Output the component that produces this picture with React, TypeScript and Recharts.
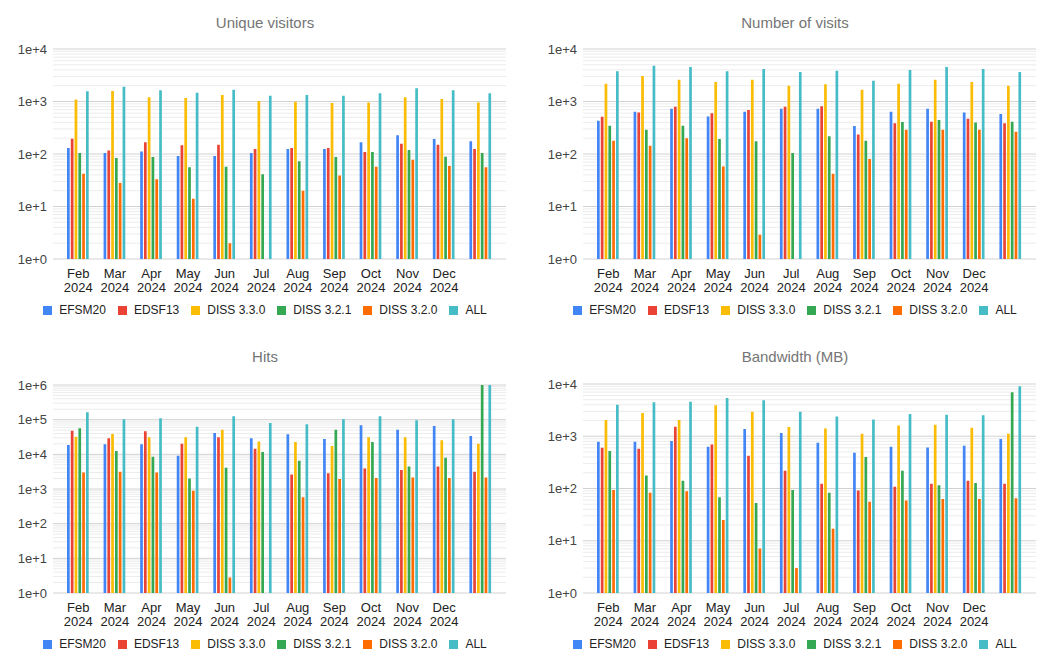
import React from 'react';
import { BarChart, Bar, XAxis, YAxis, CartesianGrid, Legend } from 'recharts';

const FONT = "'Liberation Sans', Arial, sans-serif";

// Categories
const categories = [
  'Feb 2024', 'Mar 2024', 'Apr 2024', 'May 2024', 'Jun 2024', 'Jul 2024',
  'Aug 2024', 'Sep 2024', 'Oct 2024', 'Nov 2024', 'Dec 2024', '',
];

// Series names and colours
const seriesNames = ['EFSM20', 'EDSF13', 'DISS 3.3.0', 'DISS 3.2.1', 'DISS 3.2.0', 'ALL'];
const seriesColors = ['#4285F4', '#EA4335', '#FBBC04', '#34A853', '#FF6D01', '#46BDC6'];

// Unique visitors
const uvEFSM20 = [130, 105, 112, 92, 92, 105, 125, 125, 167, 227, 193, 174];
const uvEDSF13 = [195, 116, 167, 146, 150, 125, 130, 130, 109, 157, 150, 125];
const uvDISS330 = [1090, 1580, 1200, 1170, 1330, 1020, 990, 940, 960, 1200, 1120, 960];
const uvDISS321 = [105, 84, 88, 56, 57, 41, 73, 88, 109, 119, 89, 105];
const uvDISS320 = [42, 28, 33, 14, 2, null, 20, 39, 57, 78, 59, 56];
const uvALL = [1560, 1920, 1630, 1470, 1680, 1290, 1330, 1290, 1430, 1780, 1630, 1430];

// Number of visits
const nvEFSM20 = [430, 640, 730, 520, 640, 730, 730, 340, 640, 730, 620, 580];
const nvEDSF13 = [510, 620, 790, 600, 690, 790, 810, 234, 384, 413, 471, 384];
const nvDISS330 = [2190, 3060, 2600, 2350, 2600, 2000, 2140, 1680, 2190, 2600, 2350, 2000];
const nvDISS321 = [346, 291, 346, 193, 174, 105, 217, 179, 407, 444, 400, 413];
const nvDISS320 = [179, 144, 199, 58, 2.9, null, 42, 80, 291, 291, 291, 266];
const nvALL = [3760, 4820, 4540, 3760, 4160, 3650, 3870, 2490, 3980, 4540, 4160, 3650];

// Hits
const hEFSM20 = [18500, 19400, 19400, 9110, 41200, 28900, 37700, 27600, 68600, 51400, 65600, 33700];
const hEDSF13 = [48100, 28900, 46000, 20200, 30900, 14500, 2630, 2870, 3920, 3510, 4480, 3140];
const hDISS330 = [32300, 38500, 30900, 30900, 51400, 23600, 22600, 17300, 30900, 30900, 25300, 20200];
const hDISS321 = [56100, 12400, 8530, 2010, 4100, 11600, 6530, 51400, 22600, 4480, 7980, 1000000];
const hDISS320 = [3000, 3140, 3000, 887, 2.8, null, 582, 1930, 2060, 2150, 2060, 2150];
const hALL = [163000, 102000, 109000, 62800, 125000, 80100, 73300, 102000, 125000, 95600, 102000, 1070000];

// Bandwidth (MB)
const bEFSM20 = [785, 785, 808, 629, 1370, 1150, 750, 483, 629, 611, 658, 883];
const bEDSF13 = [602, 576, 1520, 697, 423, 218, 123, 92, 108, 123, 140, 123];
const bDISS330 = [2040, 2780, 2040, 3900, 2950, 1500, 1410, 1120, 1610, 1660, 1460, 1120];
const bDISS321 = [520, 177, 140, 68, 53, 94, 83, 399, 218, 116, 127, 6920];
const bDISS320 = [94, 83, 89, 25, 7.1, 3.0, 17, 56, 59, 63, 63, 65];
const bALL = [4020, 4460, 4590, 5390, 4860, 2950, 2400, 2100, 2660, 2580, 2510, 9020];

// Y ticks
const ticks4 = [1, 10, 100, 1000, 10000];
const ticks6 = [1, 10, 100, 1000, 10000, 100000, 1000000];

const buildRows = (series: (number | null)[][]) =>
  categories.map((month, i) => {
    const row: Record<string, any> = { month };
    seriesNames.forEach((name, s) => {
      row[name] = series[s][i];
    });
    return row;
  });

const minorOf = (ticks: number[]) => {
  const out: number[] = [];
  for (let t = 0; t < ticks.length - 1; t++) {
    for (let k = 2; k <= 9; k++) out.push(ticks[t] * k);
  }
  return out;
};

const MonthTick = (props: any) => {
  const { x, y, payload } = props;
  const parts = String(payload.value).split(' ');
  return (
    <text x={x} y={y} textAnchor="middle" fill="#222" fontSize={13} fontFamily={FONT}>
      <tspan x={x} dy={19}>{parts[0] || ''}</tspan>
      <tspan x={x} dy={13.5}>{parts[1] || ''}</tspan>
    </text>
  );
};

const renderLegend = (props: any) => {
  const items = [...(props.payload || [])].sort(
    (a: any, b: any) => seriesNames.indexOf(a.value) - seriesNames.indexOf(b.value)
  );
  return (
    <div
      style={{
        display: 'flex',
        justifyContent: 'center',
        alignItems: 'center',
        height: 16,
        fontFamily: FONT,
        fontSize: 12,
        color: '#222',
      }}
    >
      {items.map((p: any, i: number) => (
        <div key={i} style={{ display: 'flex', alignItems: 'center', marginRight: i < items.length - 1 ? 12 : 0 }}>
          <span style={{ display: 'inline-block', width: 9, height: 9, background: p.color, marginRight: 7 }} />
          <span>{p.value}</span>
        </div>
      ))}
    </div>
  );
};

type PanelProps = {
  title: string;
  rows: Record<string, any>[];
  ticks: number[];
  left: number;
  top: number;
  marginTop: number;
};

const Panel = ({ title, rows, ticks, left, top, marginTop }: PanelProps) => {
  const minor = minorOf(ticks);
  return (
    <div style={{ position: 'absolute', left, top, width: 530, height: 333 }}>
      <div
        style={{
          position: 'absolute',
          top: 14,
          left: 0,
          width: 530,
          textAlign: 'center',
          fontFamily: FONT,
          fontSize: 15,
          lineHeight: '18px',
          color: '#757575',
        }}
      >
        {title}
      </div>
      <BarChart
        width={530}
        height={333}
        data={rows}
        margin={{ top: marginTop, right: 24, left: 0, bottom: 18 }}
        barSize={2.7}
        barGap={1.1}
      >
        <CartesianGrid vertical={false} horizontalValues={minor} stroke="#ececec" />
        <CartesianGrid vertical={false} stroke="#d2d2d2" />
        <XAxis
          dataKey="month"
          interval={0}
          tickLine={false}
          axisLine={false}
          tickSize={0}
          tickMargin={0}
          height={40}
          padding={{ left: 7, right: 7 }}
          tick={<MonthTick />}
        />
        <YAxis
          type="number"
          scale="log"
          domain={[ticks[0], ticks[ticks.length - 1]]}
          ticks={ticks}
          allowDataOverflow
          interval={0}
          width={53}
          tickLine={false}
          axisLine={false}
          tickSize={6}
          tickMargin={0}
          tick={{ fontSize: 13, fill: '#444', fontFamily: FONT }}
          tickFormatter={(v: number) => `1e+${Math.round(Math.log10(v))}`}
        />
        <Legend content={renderLegend} wrapperStyle={{ left: 0, width: 530, top: 302 }} />
        {seriesNames.map((name, i) => (
          <Bar key={name} dataKey={name} name={name} fill={seriesColors[i]} isAnimationActive={false} />
        ))}
      </BarChart>
    </div>
  );
};

export default function App() {
  const uvRows = buildRows([uvEFSM20, uvEDSF13, uvDISS330, uvDISS321, uvDISS320, uvALL]);
  const nvRows = buildRows([nvEFSM20, nvEDSF13, nvDISS330, nvDISS321, nvDISS320, nvALL]);
  const hRows = buildRows([hEFSM20, hEDSF13, hDISS330, hDISS321, hDISS320, hALL]);
  const bRows = buildRows([bEFSM20, bEDSF13, bDISS330, bDISS321, bDISS320, bALL]);
  return (
    <div style={{ position: 'absolute', left: 0, top: 0, width: 1060, height: 667, background: '#fff' }}>
      <Panel title="Unique visitors" rows={uvRows} ticks={ticks4} left={0} top={0} marginTop={49} />
      <Panel title="Number of visits" rows={nvRows} ticks={ticks4} left={530} top={0} marginTop={49} />
      <Panel title="Hits" rows={hRows} ticks={ticks6} left={0} top={334} marginTop={51} />
      <Panel title="Bandwidth (MB)" rows={bRows} ticks={ticks4} left={530} top={334} marginTop={50} />
    </div>
  );
}
